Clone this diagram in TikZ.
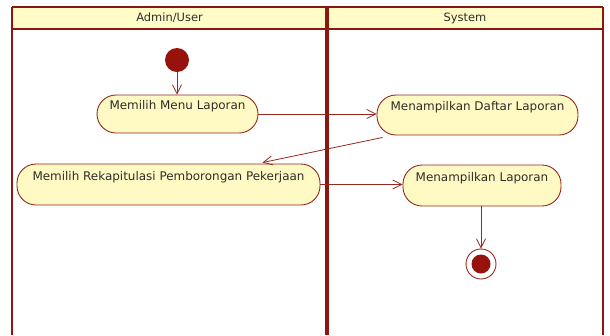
\documentclass[tikz,border=0pt]{standalone}
\usepackage{fontspec}
\setmainfont{DejaVu Sans}
\usetikzlibrary{arrows.meta,calc}
\definecolor{laneline}{RGB}{140,22,18}
\definecolor{headfill}{RGB}{255,252,200}
\definecolor{actfill}{RGB}{255,250,196}
\definecolor{actline}{RGB}{150,40,30}
\definecolor{dot}{RGB}{150,18,10}
\definecolor{ink}{RGB}{45,45,40}
\begin{document}
\begin{tikzpicture}[x=1bp,y=-1bp,
  lanetext/.style={font=\fontsize{11.5}{13}\selectfont, text=ink, inner sep=0pt},
  act/.style={draw=actline, fill=actfill, line width=0.9bp, rounded corners=19bp,
    font=\fontsize{12}{14}\selectfont, text=ink, text height=9pt, text depth=18pt, inner sep=0pt},
  flow/.style={draw=actline, line width=0.8bp, -{Straight Barb[length=9bp,width=9bp]}},
  lanerule/.style={draw=laneline, line width=2.6bp}]
\useasboundingbox (0,0) rectangle (610,335);
\fill[white] (0,0) rectangle (610,335);

% swimlane frame
\fill[headfill] (12,7) rectangle (603,29);
\draw[lanerule] (12,7) -- (603,7);
\draw[lanerule] (12,29) -- (603,29);
\draw[lanerule] (12,7) -- (12,335);
\draw[lanerule] (603,7) -- (603,335);
\draw[draw=laneline, line width=4.2bp] (327,7) -- (327,335);
\node[lanetext] (laneA) at (169.5,18) {Admin/User};
\node[lanetext] (laneS) at (465,18) {System};

% activities
\node[circle, fill=dot, minimum size=24bp, inner sep=0pt] (start) at (177,60) {};
\node[act, minimum width=161bp, minimum height=38bp] (n1) at (177.5,114) {Memilih Menu Laporan};
\node[act, minimum width=201bp, minimum height=40bp] (n2) at (477.5,115) {Menampilkan Daftar Laporan};
\node[act, minimum width=303bp, minimum height=41bp] (n3) at (168.5,184.5) {Memilih Rekapitulasi Pemborongan Pekerjaan};
\node[act, minimum width=158bp, minimum height=41bp] (n4) at (482,185.5) {Menampilkan Laporan};
\node[circle, draw=actline, line width=0.9bp, minimum size=30bp, inner sep=0pt] (end) at (481,264) {};
\fill[dot] (end.center) circle (9.5bp);

% control flow
\draw[flow] (start) -- (start |- n1.north);
\draw[flow] (n1.east) -- (n1.east -| n2.west);
\draw[flow] ($(n2.south west)+(6,2)$) -- ($(n3.north east)+(-58,-1)$);
\draw[flow] (n3.east) -- (n3.east -| n4.west);
\draw[flow] (end |- n4.south) -- (end.north);
\end{tikzpicture}
\end{document}
